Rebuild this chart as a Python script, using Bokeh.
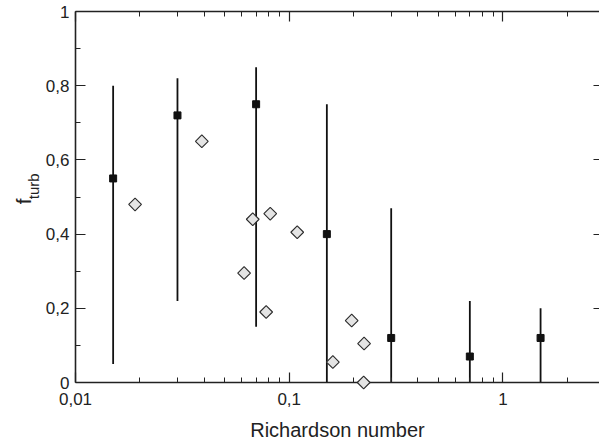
import math
from bokeh.plotting import figure
from bokeh.models import (FixedTicker, CustomJSTickFormatter, LogAxis, LinearAxis,
                          ColumnDataSource, Range1d)
from bokeh.core.properties import value
from bokeh.embed import file_html
from bokeh.resources import INLINE

# ---- data ----
ri_mean = [0.015, 0.03, 0.07, 0.15, 0.30, 0.70, 1.5]
f_mean = [0.55, 0.72, 0.75, 0.40, 0.12, 0.07, 0.12]
f_low = [0.05, 0.22, 0.15, 0.0, 0.0, 0.0, 0.0]
f_high = [0.80, 0.82, 0.85, 0.75, 0.47, 0.22, 0.20]

ri_obs = [0.019, 0.039, 0.0615, 0.0675, 0.078, 0.0815, 0.109, 0.16, 0.196, 0.224, 0.223]
f_obs = [0.48, 0.65, 0.295, 0.44, 0.19, 0.455, 0.405, 0.055, 0.167, 0.105, 0.0]

x_major = [0.01, 0.1, 1]
x_minor = [0.02, 0.03, 0.04, 0.05, 0.06, 0.07, 0.08, 0.09,
           0.2, 0.3, 0.4, 0.5, 0.6, 0.7, 0.8, 0.9, 2]
y_major = [0, 0.2, 0.4, 0.6, 0.8, 1]
y_minor = [0.1, 0.3, 0.5, 0.7, 0.9]

x_title = "Richardson number"
y_title_main = "f"
y_title_sub = "turb"

INK = "#222222"
FONT = "Liberation Sans"
X_START, X_END = 0.01, 2.83

mean_src = ColumnDataSource(dict(x=ri_mean, y=f_mean, lo=f_low, hi=f_high))
obs_src = ColumnDataSource(dict(x=ri_obs, y=f_obs))

p = figure(width=599, height=443, x_axis_type="log",
           x_range=Range1d(X_START, X_END), y_range=Range1d(0, 1),
           output_backend="svg", toolbar_location=None,
           min_border_left=75, min_border_right=0, min_border_top=11,
           min_border_bottom=60, outline_line_color=None,
           background_fill_color="white", border_fill_color="white")
p.xgrid.visible = False
p.ygrid.visible = False

fmt = CustomJSTickFormatter(code="return tick.toString().replace('.', ',');")
blank = CustomJSTickFormatter(code="return '';")


def style(ax, labels=True):
    ax.axis_line_color = INK
    ax.axis_line_width = 1.6
    ax.major_tick_line_color = INK
    ax.minor_tick_line_color = INK
    ax.major_tick_line_width = 1.2
    ax.minor_tick_line_width = 1.0
    ax.major_tick_in = 10
    ax.major_tick_out = 0
    ax.minor_tick_in = 5
    ax.minor_tick_out = 0
    if labels:
        ax.major_label_text_font = FONT
        ax.major_label_text_font_size = "17px"
        ax.major_label_text_color = INK
        ax.formatter = fmt
    else:
        ax.formatter = blank
        ax.major_label_text_font_size = "2px"
        ax.major_label_text_alpha = 0
        ax.major_label_standoff = 0


xax = p.xaxis[0]
xax.ticker = FixedTicker(ticks=x_major, minor_ticks=x_minor)
style(xax)
xax.major_label_standoff = 10
xax.axis_label = x_title
xax.axis_label_text_font = FONT
xax.axis_label_text_font_size = "20px"
xax.axis_label_text_font_style = "normal"
xax.axis_label_text_color = INK
xax.axis_label_standoff = 11

yax = p.yaxis[0]
yax.ticker = FixedTicker(ticks=y_major, minor_ticks=y_minor)
style(yax)
yax.major_label_standoff = 6

top = LogAxis(ticker=FixedTicker(ticks=x_major, minor_ticks=x_minor))
style(top, labels=False)
p.add_layout(top, "above")

right = LinearAxis(ticker=FixedTicker(ticks=y_major, minor_ticks=y_minor))
style(right, labels=False)
right.axis_line_color = None
right.minor_tick_line_color = None
right.major_tick_in = 6
p.add_layout(right, "right")

# error bars and mean values
p.segment(x0="x", y0="lo", x1="x", y1="hi", source=mean_src,
          line_color="#111111", line_width=1.8)

# individual observations (open diamonds)
obs = p.scatter(x="x", y="y", source=obs_src, marker="square", angle=math.pi / 4,
                size=9, fill_color="#e4e4e4", line_color="#2a2a2a", line_width=1.1)
obs.level = "overlay"

p.scatter(x="x", y="y", source=mean_src, marker="square", size=7,
          fill_color="#111111", line_color="#111111")

# y title: f with subscript "turb", anchored at the left edge of the x range
# and shifted left in pixels into the margin
t_main = p.text(x=[X_START], y=[0.488], text=[y_title_main], x_offset=-52,
                angle=math.pi / 2, text_font=value(FONT), text_font_size="21px",
                text_color=INK, text_align="center", text_baseline="alphabetic")
t_main.level = "overlay"
t_sub = p.text(x=[X_START], y=[0.529], text=[y_title_sub], x_offset=-42,
               angle=math.pi / 2, text_font=value(FONT), text_font_size="15px",
               text_color=INK, text_align="center", text_baseline="alphabetic")
t_sub.level = "overlay"

open("out.html", "w").write(file_html(p, INLINE))
